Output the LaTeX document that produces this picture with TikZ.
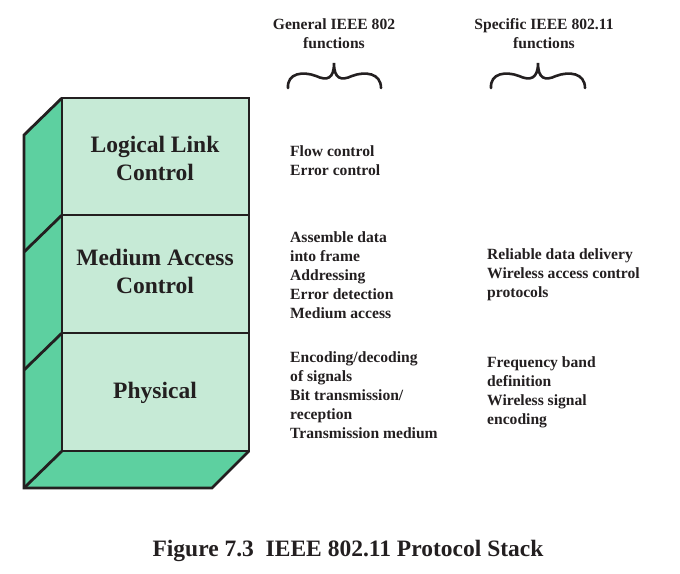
\documentclass[tikz,border=0pt]{standalone}
\usepackage{fontspec}
\setmainfont{Liberation Serif}
\definecolor{txt}{HTML}{231F20}
\definecolor{frontc}{HTML}{C6EAD6}
\definecolor{sidec}{HTML}{5DD0A0}
\begin{document}
\begin{tikzpicture}[x=1pt,y=-1pt,
  edge/.style={draw=txt,line width=2.8pt,line join=miter},
  layer/.style={font=\fontsize{23.5}{28}\selectfont\bfseries,text=txt,align=center,inner sep=0pt},
  func/.style={font=\fontsize{15.6}{19}\selectfont\bfseries,text=txt,align=left,inner sep=0pt,anchor=west},
  head/.style={font=\fontsize{15.6}{19}\selectfont\bfseries,text=txt,align=center,inner sep=0pt},
  brace/.style={draw=txt,line width=2.6pt,line cap=round}]
\useasboundingbox (0,0) rectangle (680,573);
% coordinates of the stack
\coordinate (f1) at (62,98);
\coordinate (f2) at (249,98);
\coordinate (f3) at (249,451);
\coordinate (f4) at (62,451);
\coordinate (m1) at (62,215);
\coordinate (m2) at (249,215);
\coordinate (n1) at (62,333);
\coordinate (n2) at (249,333);
\coordinate (s1) at (24,135);
\coordinate (s2) at (24,252);
\coordinate (s3) at (24,370);
\coordinate (s4) at (24,488);
\coordinate (b3) at (212,488);
% faces
\fill[sidec] (f1) -- (s1) -- (s4) -- (f4) -- cycle;
\fill[sidec] (f4) -- (s4) -- (b3) -- (f3) -- cycle;
\fill[frontc] (f1) rectangle (f3);
% edges
\draw[edge] (f1) -- (f2) -- (f3) -- (f4) -- cycle;
\draw[edge] (m1) -- (m2);
\draw[edge] (n1) -- (n2);
\draw[edge] (f1) -- (s1) -- (s4) -- (b3) -- (f3);
\draw[edge] (f4) -- (s4);
\draw[edge] (m1) -- (s2);
\draw[edge] (n1) -- (s3);
% layer labels
\node[layer] (llc) at (155,158) {Logical Link\\Control};
\node[layer] (mac) at (155,271) {Medium Access\\Control};
\node[layer] (phy) at (155,393) {Physical};
% headers
\node[head] (gen) at (334,34) {General IEEE 802\\functions};
\node[head] (spec) at (544,34) {Specific IEEE 802.11\\functions};
% braces
\draw[brace] (288,88) .. controls (287,73) and (303,71) .. (316,76)
  .. controls (327,81) and (334,79) .. (334,63)
  .. controls (334,79) and (341,81) .. (352,76)
  .. controls (365,71) and (381,73) .. (381,88);
\draw[brace] (491,88) .. controls (490,73) and (506,71) .. (519,76)
  .. controls (530,81) and (538,79) .. (538,63)
  .. controls (538,79) and (545,81) .. (556,76)
  .. controls (569,71) and (585,73) .. (585,88);
% function texts
\node[func] (g1) at (290,161) {Flow control\\Error control};
\node[func] (g2) at (290,275) {Assemble data\\into frame\\Addressing\\Error detection\\Medium access};
\node[func] (g3) at (290,395.5) {Encoding/decoding\\of signals\\Bit transmission/\\reception\\Transmission medium};
\node[func] (p2) at (487,275) {Reliable data delivery\\Wireless access control\\protocols};
\node[func] (p3) at (487,392.5) {Frequency band\\definition\\Wireless signal\\encoding};
% caption
\node[font=\fontsize{23.5}{28}\selectfont\bfseries,text=txt,inner sep=0pt] (cap) at (348,551) {Figure 7.3\hspace{0.5em}IEEE 802.11 Protocol Stack};
\end{tikzpicture}
\end{document}
